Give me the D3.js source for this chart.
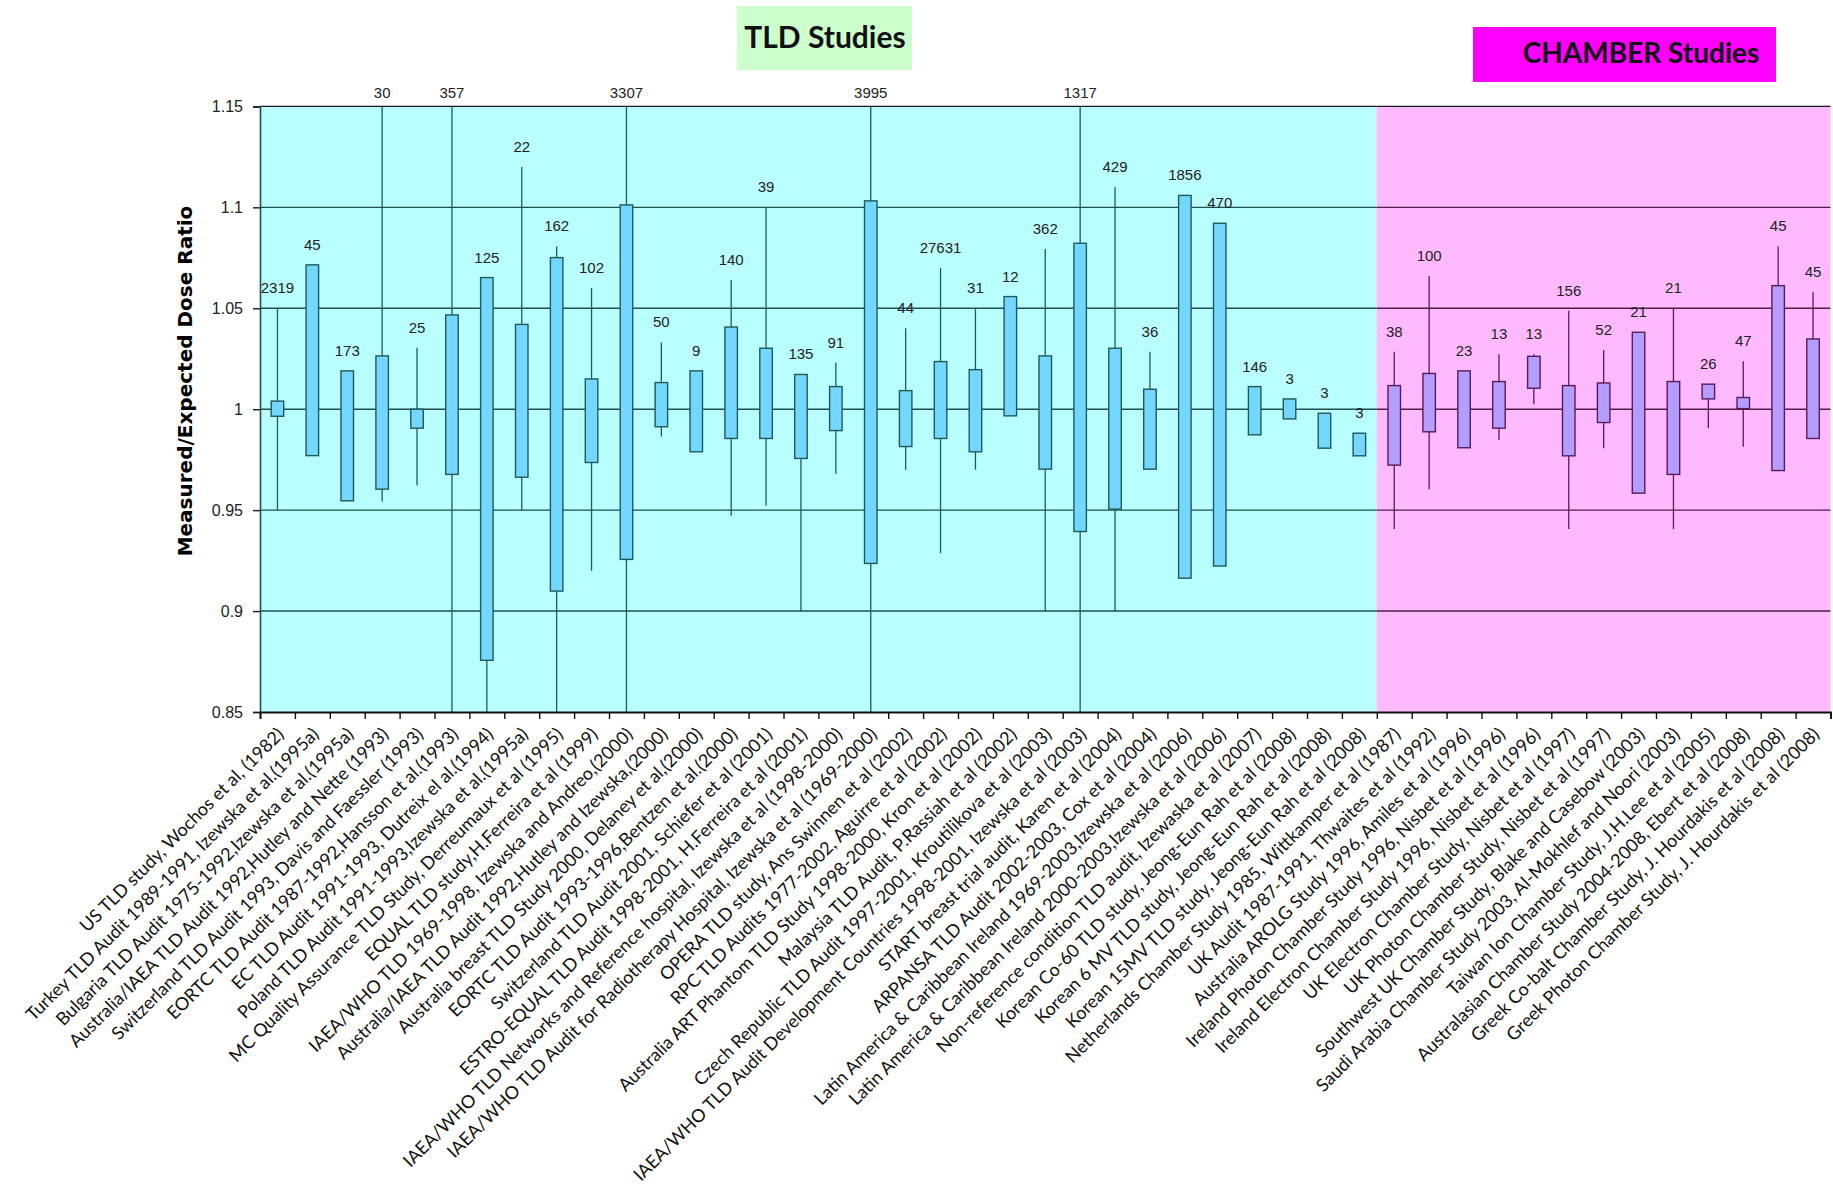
<!DOCTYPE html>
<html>
<head>
<meta charset="utf-8">
<script src="https://cdn.jsdelivr.net/npm/d3@7"></script>
<style>
  body { margin: 0; background: #fff; }
  svg { display: block; }
</style>
</head>
<body>
<svg id="chart" width="1833" height="1186"></svg>
<script>
// Dosimetry audit studies: measured/expected dose ratio ranges
const studies = [
  "US TLD study, Wochos et al, (1982)",
  "Turkey TLD Audit 1989-1991, Izewska et al.(1995a)",
  "Bulgaria TLD Audit 1975-1992,Izewska et al.(1995a)",
  "Australia/IAEA TLD Audit 1992,Hutley and Nette (1993)",
  "Switzerland TLD Audit 1993, Davis and Faessler (1993)",
  "EORTC TLD Audit  1987-1992,Hansson et al.(1993)",
  "EC TLD Audit 1991-1993, Dutreix el al.(1994)",
  "Poland TLD Audit 1991-1993,Izewska et al.(1995a)",
  "MC Quality Assurance TLD Study, Derreumaux et al (1995)",
  "EQUAL TLD study,H.Ferreira et al (1999)",
  "IAEA/WHO TLD 1969-1998, Izewska and Andreo,(2000)",
  "Australia/IAEA TLD Audit 1992,Hutley and Izewska,(2000)",
  "Australia breast TLD Study 2000, Delaney et al,(2000)",
  "EORTC TLD Audit  1993-1996,Bentzen et al.(2000)",
  "Switzerland TLD Audit 2001, Schiefer et al  (2001)",
  "ESTRO-EQUAL TLD Audit 1998-2001, H.Ferreira et al (2001)",
  "IAEA/WHO TLD Networks and Reference hospital, Izewska et al (1998-2000)",
  "IAEA/WHO TLD Audit for Radiotherapy Hospital, Izewska et al (1969-2000)",
  "OPERA TLD study, Ans Swinnen et al (2002)",
  "RPC TLD Audits 1977-2002, Aguirre et al (2002)",
  "Australia ART Phantom TLD Study 1998-2000, Kron et al (2002)",
  "Malaysia TLD Audit, P.Rassiah et al (2002)",
  "Czech Republic TLD Audit 1997-2001, Kroutilikova et al (2003)",
  "IAEA/WHO TLD Audit Development Countries 1998-2001, Izewska et al (2003)",
  "START breast trial audit, Karen et al (2004)",
  "ARPANSA TLD Audit 2002-2003, Cox et al (2004)",
  "Latin America & Caribbean Ireland 1969-2003,Izewska et al (2006)",
  "Latin America & Caribbean Ireland 2000-2003,Izewska et al (2006)",
  "Non-reference condition TLD audit, Izewaska et al (2007)",
  "Korean Co-60 TLD study, Jeong-Eun Rah et al (2008)",
  "Korean 6 MV TLD study, Jeong-Eun Rah et al (2008)",
  "Korean 15MV TLD study, Jeong-Eun Rah et al (2008)",
  "Netherlands Chamber Study 1985, Wittkamper et al (1987)",
  "UK Audit 1987-1991, Thwaites et al (1992)",
  "Australia AROLG Study 1996, Amiles et al (1996)",
  "Ireland Photon Chamber Study 1996, Nisbet et al (1996)",
  "Ireland  Electron Chamber Study 1996, Nisbet et al (1996)",
  "UK Electron Chamber Study, Nisbet et al (1997)",
  "UK Photon Chamber Study, Nisbet et al (1997)",
  "Southwest UK Chamber Study, Blake and Casebow (2003)",
  "Saudi Arabia Chamber Study 2003, Al-Mokhlef and Noori (2003)",
  "Taiwan Ion Chamber Study, J.H.Lee et al (2005)",
  "Australasian Chamber Study 2004-2008, Ebert et  al (2008)",
  "Greek Co-balt Chamber Study, J. Hourdakis et al (2008)",
  "Greek Photon Chamber Study, J. Hourdakis et al (2008)"
];

// number of measurements in each study
const sampleCounts = [2319, 45, 173, 30, 25, 357, 125, 22, 162, 102, 3307, 50, 9, 140, 39, 135, 91,
  3995, 44, 27631, 31, 12, 362, 1317, 429, 36, 1856, 470, 146, 3, 3, 3,
  38, 100, 23, 13, 13, 156, 52, 21, 21, 26, 47, 45, 45];

// box: lower and upper ratio
const boxLow = [0.9965, 0.977, 0.9546, 0.9604, 0.9906, 0.9677, 0.8756, 0.9663, 0.9099, 0.9736, 0.9256,
  0.9913, 0.9789, 0.9855, 0.9855, 0.9756, 0.9894, 0.9236, 0.9815, 0.9855, 0.9789, 0.9967, 0.9703,
  0.9394, 0.9505, 0.9703, 0.9163, 0.9223, 0.9873, 0.9952, 0.9807, 0.9769,
  0.9723, 0.9888, 0.9809, 0.9906, 1.0104, 0.9769, 0.9934, 0.9584, 0.9677, 1.0051, 1.0003, 0.9696, 0.9855];
const boxHigh = [1.004, 1.0715, 1.019, 1.0264, 1.0, 1.0467, 1.0652, 1.042, 1.0751, 1.015, 1.1012,
  1.0132, 1.019, 1.0407, 1.0302, 1.0172, 1.0112, 1.1032, 1.0092, 1.0236, 1.0196, 1.0558, 1.0264,
  1.0822, 1.0302, 1.0099, 1.1059, 1.0921, 1.0112, 1.0051, 0.998, 0.9881,
  1.0117, 1.0177, 1.019, 1.0137, 1.0262, 1.0117, 1.013, 1.0381, 1.0137, 1.0124, 1.0058, 1.0612, 1.0348];

// whiskers: minimum and maximum ratio
const whiskerLow = [0.95, 0.977, 0.9546, 0.9543, 0.9622, 0.80, 0.80, 0.95, 0.80, 0.92, 0.80,
  0.9865, 0.9789, 0.9472, 0.9523, 0.90, 0.968, 0.80, 0.97, 0.9287, 0.97, 0.9967, 0.90,
  0.80, 0.90, 0.9703, 0.9163, 0.9223, 0.9873, 0.9952, 0.9807, 0.9769,
  0.9406, 0.9604, 0.9809, 0.9847, 1.0025, 0.9406, 0.9807, 0.9584, 0.9406, 0.9906, 0.9814, 0.9696, 0.9855];
const whiskerHigh = [1.05, 1.0715, 1.019, 1.20, 1.0305, 1.20, 1.0652, 1.12, 1.0806, 1.06, 1.20,
  1.0331, 1.019, 1.064, 1.10, 1.0172, 1.023, 1.20, 1.0401, 1.07, 1.05, 1.0558, 1.0793,
  1.20, 1.11, 1.0285, 1.1059, 1.0921, 1.0112, 1.0051, 0.998, 0.9881,
  1.0285, 1.066, 1.019, 1.0272, 1.0272, 1.0488, 1.0293, 1.0381, 1.05, 1.0124, 1.0238, 1.0806, 1.0579];

const tldStudyCount = 32;   // the first 32 studies use TLDs, the rest ion chambers
const yTicks = [0.85, 0.9, 0.95, 1, 1.05, 1.1, 1.15];
const groupTitles = ["TLD Studies", "CHAMBER Studies"];
const yTitle = "Measured/Expected Dose Ratio";

const svg = d3.select("#chart");

const plotLeft = 260, plotTop = 106.4, plotBottom = 712;
const bandW = 34.9;
const plotRight = plotLeft + studies.length * bandW;

const x = d3.scaleBand().domain(d3.range(studies.length)).range([plotLeft, plotRight]).padding(0);
const xEdge = d3.scaleLinear().domain([0, studies.length]).range([plotLeft, plotRight]);
const y = d3.scaleLinear().domain([0.85, 1.15]).range([plotBottom, plotTop]);

const style = {
  tld: { bg: "#BAFFFF", fill: "#74D7FF", stroke: "#1E5A5A", grid: "#1F4F4F" },
  ch:  { bg: "#FFBAFF", fill: "#B39EFF", stroke: "#5A1A5A", grid: "#4E1E48" }
};
const groupOf = i => (i < tldStudyCount ? style.tld : style.ch);
const boundary = xEdge(tldStudyCount);

// shaded group backgrounds
const regions = [
  { x0: plotLeft, x1: boundary, s: style.tld },
  { x0: boundary, x1: Math.min(plotRight, 1833), s: style.ch }
];
svg.append("g").selectAll("rect").data(regions).join("rect")
  .attr("x", d => d.x0).attr("y", plotTop)
  .attr("width", d => d.x1 - d.x0).attr("height", plotBottom - plotTop)
  .attr("fill", d => d.s.bg);

// horizontal gridlines, tinted per region
const gridG = svg.append("g");
regions.forEach(r => {
  gridG.append("g").selectAll("line").data(yTicks.filter(v => v > 0.85)).join("line")
    .attr("x1", r.x0).attr("x2", r.x1)
    .attr("y1", d => y(d)).attr("y2", d => y(d))
    .attr("stroke", d => d === 1.15 ? "#1a1a1a" : r.s.grid)
    .attr("stroke-width", 1.4);
});

// clip marks to the plotting area
svg.append("clipPath").attr("id", "plotClip").append("rect")
  .attr("x", plotLeft).attr("y", plotTop)
  .attr("width", plotRight - plotLeft).attr("height", plotBottom - plotTop);

const idx = d3.range(studies.length);
const marks = svg.append("g").attr("clip-path", "url(#plotClip)");
const cx = i => x(i) + x.bandwidth() / 2;
const boxW = 12.5;

marks.append("g").selectAll("line").data(idx).join("line")
  .attr("x1", cx).attr("x2", cx)
  .attr("y1", i => y(whiskerHigh[i])).attr("y2", i => y(whiskerLow[i]))
  .attr("stroke", i => groupOf(i).stroke).attr("stroke-width", 1.3);

marks.append("g").selectAll("rect").data(idx).join("rect")
  .attr("x", i => cx(i) - boxW / 2).attr("width", boxW)
  .attr("y", i => y(boxHigh[i])).attr("height", i => y(boxLow[i]) - y(boxHigh[i]))
  .attr("fill", i => groupOf(i).fill)
  .attr("stroke", i => groupOf(i).stroke).attr("stroke-width", 1.4);

// sample-size labels above each study
svg.append("g").selectAll("text").data(idx).join("text")
  .attr("x", cx)
  .attr("y", i => whiskerHigh[i] > 1.15 ? y(1.15) - 8 : y(whiskerHigh[i]) - 15)
  .attr("text-anchor", "middle")
  .attr("font-family", "'Liberation Sans Narrow', 'Liberation Sans', Arial, sans-serif")
  .attr("font-size", 15)
  .attr("fill", "#222")
  .text(i => sampleCounts[i]);

// y axis
const yAxis = svg.append("g").attr("transform", `translate(${plotLeft},0)`)
  .call(d3.axisLeft(y).tickValues(yTicks).tickSize(7).tickPadding(10)
    .tickFormat(d => String(+d.toFixed(2))));
yAxis.select(".domain").attr("stroke", "#1F4F4F").attr("stroke-width", 1.6);
yAxis.selectAll(".tick line").attr("stroke", "#1a1a1a").attr("stroke-width", 1.4);
yAxis.selectAll(".tick text")
  .attr("font-family", "'Liberation Sans', Arial, sans-serif")
  .attr("font-size", 16).attr("fill", "#222");

// x axis with ticks between studies
const xAxis = svg.append("g").attr("transform", `translate(0,${plotBottom})`)
  .call(d3.axisBottom(xEdge).tickValues(d3.range(studies.length + 1)).tickSize(7).tickFormat(""));
xAxis.select(".domain").attr("stroke", "#111").attr("stroke-width", 1.8);
xAxis.selectAll(".tick line").attr("stroke", "#111").attr("stroke-width", 1.4);

// rotated study names
svg.append("g").selectAll("text").data(idx).join("text")
  .attr("transform", i => `translate(${cx(i) + 3},${plotBottom + 19}) rotate(-45)`)
  .attr("text-anchor", "end")
  .attr("dy", "0.35em")
  .attr("font-family", "Lato, 'Open Sans', sans-serif")
  .attr("font-size", 18)
  .attr("fill", "#111")
  .text(i => studies[i]);

// y axis title
svg.append("text")
  .attr("transform", `translate(192,381) rotate(-90)`)
  .attr("text-anchor", "middle")
  .attr("font-family", "'DejaVu Sans', Verdana, sans-serif")
  .attr("font-weight", "bold")
  .attr("font-size", 20)
  .attr("fill", "#000")
  .text(yTitle);

// group captions
const captions = [
  { text: groupTitles[0], x: 737, y: 6, w: 175, h: 64, fill: "#CCFFCC", tx: 825, ty: 48, size: 30 },
  { text: groupTitles[1], x: 1473, y: 27, w: 303, h: 55, fill: "#FF00FF", tx: 1641, ty: 63, size: 28 }
];
const capG = svg.append("g").selectAll("g").data(captions).join("g");
capG.append("rect")
  .attr("x", d => d.x).attr("y", d => d.y).attr("width", d => d.w).attr("height", d => d.h)
  .attr("fill", d => d.fill);
capG.append("text")
  .attr("x", d => d.tx).attr("y", d => d.ty)
  .attr("text-anchor", "middle")
  .attr("font-family", "Lato, 'Open Sans', sans-serif")
  .attr("font-weight", "bold")
  .attr("font-size", d => d.size)
  .attr("fill", "#111")
  .text(d => d.text);
</script>
</body>
</html>
